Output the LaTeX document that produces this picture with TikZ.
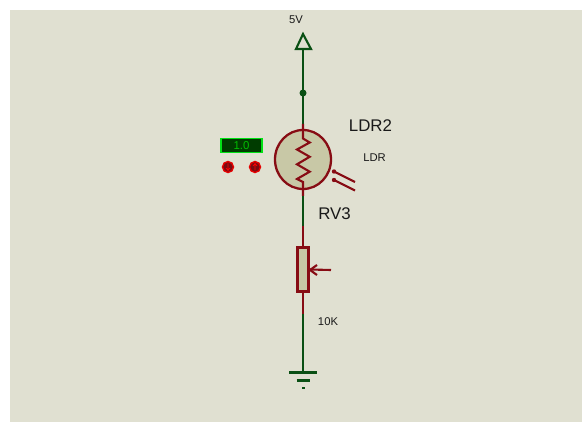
\documentclass[tikz,border=0pt]{standalone}
\usepackage{fontspec}
\usetikzlibrary{shapes.geometric}
\setmainfont{Liberation Sans}
\definecolor{sheet}{RGB}{224,224,209}
\definecolor{partfill}{RGB}{200,200,166}
\definecolor{wiregreen}{RGB}{10,80,20}
\definecolor{pinred}{RGB}{135,12,20}
\definecolor{lcdback}{RGB}{0,60,0}
\definecolor{lcdedge}{RGB}{0,225,20}
\definecolor{lcdtext}{RGB}{0,190,0}
\tikzset{
  wire/.style={draw=wiregreen,line width=1.2pt},
  pin/.style={draw=pinred,line width=1.2pt},
  part/.style={draw=pinred,line width=1.3pt,fill=partfill,inner sep=0pt},
  small/.style={font=\fontsize{6.4}{7}\selectfont,text=black!90,inner sep=0pt},
  big/.style={font=\fontsize{9.6}{10}\selectfont,text=black!90,inner sep=0pt},
  btn/.style={circle,draw=red!90!black,line width=0.8pt,fill=black!10!pinred,minimum size=0.22cm,inner sep=0pt},
}
\begin{document}
\begin{tikzpicture}[x=0.02cm,y=-0.02cm]
  \useasboundingbox (0,0) rectangle (582,422);
  \fill[sheet] (10,10) rectangle (582,422);
  % supply and junction
  \coordinate (vcc) at (303,34);
  \coordinate (vccbase) at (303,49);
  \coordinate (dot) at (303,93);
  \coordinate (ldrpin) at (303,124);
  \node[small] (vlabel) at (296,20) {5V};
  % parts
  \node[part,ellipse,minimum width=1.12cm,minimum height=1.18cm] (ldr) at (303,159.5) {};
  \node[part,line width=1.5pt,minimum width=0.21cm,minimum height=0.88cm] (pot) at (303,269.5) {};
  \coordinate (ldrend) at (303,196);
  \coordinate (pottop) at (303,226);
  \coordinate (potend) at (303,314);
  \coordinate (gnd) at (303,372.5);
  % rails
  \draw[wire] (vccbase) -- (dot) -- (ldrpin);
  \fill[wiregreen] (dot) circle (3.5);
  \draw[wire,line join=miter] (vcc) -- (296,49) -- (311,49) -- cycle;
  \draw[pin] (ldrpin) -- (303,138.5) -- (309.7,142.5) -- (297,149.5) -- (309.7,156.8) -- (297,164.3) -- (309.7,171.7) -- (297,179) -- (303,182) -- (ldrend);
  \draw[wire] (ldrend) -- (pottop);
  \draw[pin] (pottop) -- (pot.north);
  \draw[pin] (pot.south) -- (potend);
  \draw[wire] (potend) -- (gnd);
  % ground
  \draw[wire] (289,372.5) -- (317,372.5);
  \draw[wire] (296.5,380.5) -- (310,380.5);
  \fill[wiregreen] (302,387) rectangle (304.5,389.5);
  % light and wiper
  \coordinate (lighta) at (355,182);
  \coordinate (lightb) at (355,190.5);
  \draw[pin] (lighta) -- (335,172);
  \draw[pin] (lightb) -- (335,180.5);
  \fill[pinred] (334,171.5) circle (2.2) (334,180) circle (2.2);
  \coordinate (wiper) at (331,270);
  \draw[pin] (wiper) -- (pot.east);
  \draw[pin] (317,265) -- (310,270) -- (317,275);
  % labels
  \node[big] (ldrname) at (370.5,126) {LDR2};
  \node[small] (ldrtype) at (374.5,158) {LDR};
  \node[big] (potname) at (334.5,214) {RV3};
  \node[small] (potval) at (328,322) {10K};
  % live readout
  \node[draw=lcdedge,fill=lcdback,line width=0.8pt,minimum width=0.82cm,minimum height=0.29cm,inner sep=0pt,text=lcdtext,font=\fontsize{6.5}{7}\selectfont] (lcd) at (241.5,145.5) {1.0};
  \node[btn] (down) at (228,167) {};
  \node[btn] (up) at (255,167) {};
  \draw[red,line width=0.4pt] (228,163.5) -- (228,170) (226,168) -- (228,170.5) -- (230,168);
  \draw[red,line width=0.4pt] (255,164) -- (255,170.5) (253,166) -- (255,163.5) -- (257,166);
\end{tikzpicture}
\end{document}
